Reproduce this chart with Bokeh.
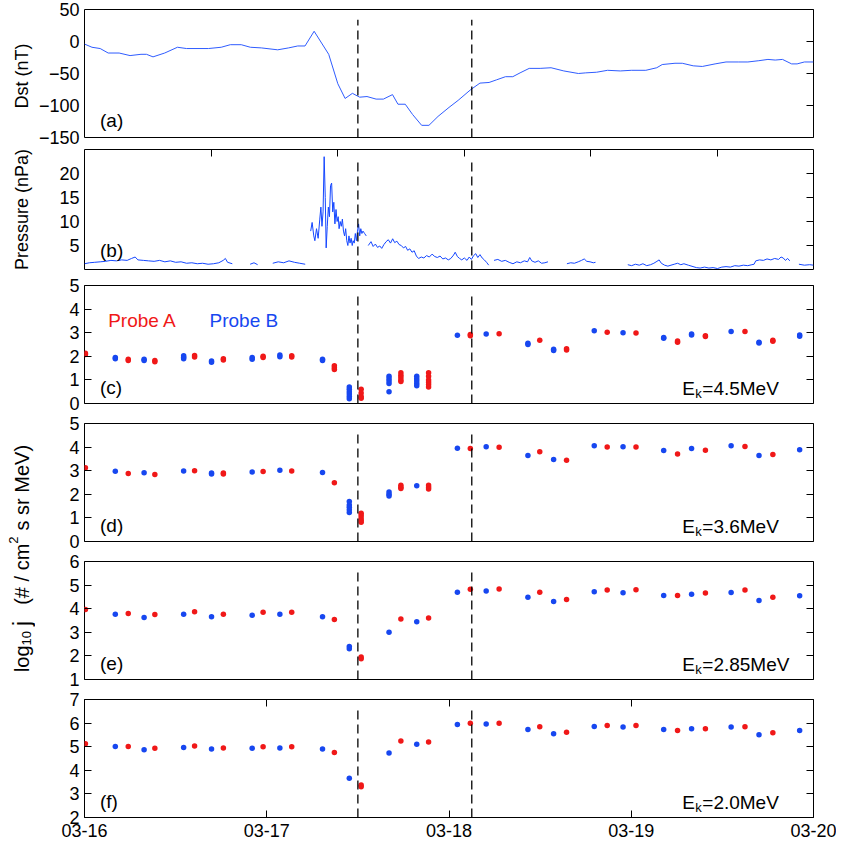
import math
import numpy as np
from bokeh.plotting import figure
from bokeh.layouts import row, column
from bokeh.models import Range1d, LinearAxis, FixedTicker, Label
from bokeh.embed import file_html
from bokeh.resources import INLINE

nan = float("nan")

# ---------------- data ----------------
# time axis: days since 03-16 00:00
day_ticks = [0, 1, 2, 3, 4]
day_labels = ["03-16", "03-17", "03-18", "03-19", "03-20"]
event_days = [1.5, 2.125]

# (a) Dst index (nT)
dst_day = [0, 0.041, 0.086, 0.13, 0.19, 0.25, 0.31, 0.34, 0.376, 0.44, 0.51, 0.56, 0.68, 0.75,
           0.80, 0.86, 0.91, 0.97, 1.06, 1.12, 1.17, 1.21, 1.26, 1.34, 1.39, 1.43, 1.47, 1.51,
           1.55, 1.60, 1.64, 1.69, 1.72, 1.76, 1.80, 1.85, 1.89, 1.94, 2.00, 2.05, 2.12, 2.17,
           2.22, 2.26, 2.31, 2.35, 2.39, 2.44, 2.50, 2.56, 2.63, 2.71, 2.75, 2.81, 2.87, 2.94,
           3.00, 3.08, 3.14, 3.17, 3.24, 3.28, 3.34, 3.39, 3.46, 3.52, 3.59, 3.64, 3.70, 3.75,
           3.79, 3.83, 3.88, 3.91, 3.95, 4.0]
dst_val = [-4, -9, -11, -18, -18, -22, -20, -20, -24, -18, -9, -11, -11, -9,
           -5, -5, -9, -10, -13, -10, -7, -7, 16, -20, -66, -89, -81, -87,
           -86, -90, -90, -83, -98, -98, -114, -131, -131, -117, -103, -92, -75, -65,
           -64, -60, -55, -55, -49, -42, -42, -41, -46, -50, -49, -48, -45, -46,
           -45, -45, -41, -36, -34, -34, -38, -39, -35, -32, -32, -32, -30, -28,
           -29, -28, -35, -35, -32, -32]

# (b) solar wind dynamic pressure (nPa); nan marks data gaps
p_day = [0, 0.027, 0.056, 0.086, 0.115, 0.145, 0.175, 0.204, 0.234, 0.258, 0.278, 0.293, 0.323,
         0.352, 0.382, 0.412, 0.441, 0.471, 0.500, 0.530, 0.560, 0.589, 0.619, 0.648, 0.678,
         0.708, 0.737, 0.761, 0.773, 0.785, 0.811, 0.83, 0.850, 0.86, 0.909, 0.930, 0.950, 0.99,
         1.033, 1.063, 1.093, 1.122, 1.152, 1.181, 1.211, 1.225,
         1.241, 1.249, 1.258, 1.264, 1.273, 1.282, 1.291, 1.297, 1.303, 1.309, 1.315, 1.321,
         1.326, 1.332, 1.338, 1.344, 1.350, 1.356, 1.362, 1.368, 1.374, 1.380, 1.386, 1.392,
         1.397, 1.403, 1.409, 1.415, 1.421, 1.427, 1.433, 1.439, 1.445, 1.451, 1.457, 1.463,
         1.469, 1.474, 1.480, 1.486, 1.492, 1.498, 1.504, 1.510, 1.516, 1.522, 1.528, 1.537,
         1.546, 1.551,
         1.557, 1.572, 1.584, 1.596, 1.608, 1.620, 1.631, 1.643, 1.655, 1.667, 1.679, 1.691,
         1.702, 1.714, 1.726, 1.738, 1.750, 1.762, 1.773, 1.785, 1.797, 1.809, 1.821, 1.833,
         1.848, 1.862, 1.877, 1.892, 1.907, 1.922, 1.936, 1.951, 1.966, 1.981, 1.996, 2.010,
         2.025, 2.034, 2.046, 2.058, 2.070, 2.084, 2.099, 2.111, 2.123, 2.135, 2.147, 2.158,
         2.170, 2.182, 2.194, 2.206, 2.218, 2.232,
         2.247, 2.268, 2.289, 2.309, 2.330, 2.351, 2.372, 2.392, 2.413, 2.431, 2.443, 2.454,
         2.472, 2.490, 2.508, 2.526, 2.543, 2.6,
         2.647, 2.668, 2.688, 2.709, 2.727, 2.742, 2.756, 2.774, 2.792, 2.804, 2.9,
         2.981, 3.002, 3.023, 3.044, 3.064, 3.085, 3.106, 3.124, 3.141, 3.153, 3.165, 3.183,
         3.201, 3.218, 3.236, 3.254, 3.272, 3.289, 3.313,
         3.357, 3.378, 3.402, 3.426, 3.449, 3.473, 3.497, 3.520, 3.544, 3.568, 3.591, 3.615,
         3.639, 3.662, 3.674, 3.683, 3.704, 3.725, 3.745, 3.766, 3.787, 3.808, 3.822, 3.834,
         3.846, 3.858, 3.870, 3.9,
         3.920, 3.950, 3.979, 4.0]
p_val = [1.2, 1.4, 1.5, 1.6, 1.7, 1.9, 1.8, 2.0, 1.9, 2.3, 2.6, 2.0, 1.9,
         1.8, 1.7, 1.9, 1.6, 1.8, 1.5, 1.6, 1.3, 1.4, 1.2, 1.3, 1.1,
         1.2, 1.4, 1.9, 2.3, 1.5, 1.2, nan, 1.0, nan, 1.1, 1.4, 1.0, nan,
         1.3, 1.6, 1.4, 1.8, 1.5, 1.3, 1.1, nan,
         8.0, 9.8, 7.0, 6.0, 8.5, 6.5, 10.5, 13.0, 9.0, 12.0, 23.5, 15.0,
         4.5, 9.0, 13.0, 11.0, 17.5, 18.0, 12.0, 14.0, 9.5, 12.5, 10.0, 11.0,
         8.5, 10.0, 9.0, 10.5, 8.0, 7.0, 8.5, 6.0, 5.0, 7.0, 5.5, 6.5,
         5.0, 6.0, 5.5, 7.5, 6.0, 8.0, 9.5, 7.0, 8.5, 7.5, 8.0, 7.5,
         7.0, nan,
         5.0, 5.8, 4.8, 5.3, 4.6, 4.9, 4.4, 5.2, 5.8, 6.2, 5.5, 6.4,
         5.6, 5.9, 5.2, 5.0, 4.5, 4.8, 4.0, 4.3, 3.6, 3.9, 2.8, 2.3,
         2.6, 2.4, 2.9, 2.6, 3.2, 2.7, 2.5, 2.8, 2.2, 2.4, 2.0, 2.3,
         3.0, 3.6, 2.7, 2.3, 2.0, 2.4, 1.9, 2.6, 2.1, 2.9, 3.3, 2.5,
         3.1, 2.4, 2.0, 1.5, 0.9, nan,
         1.9, 2.1, 1.7, 1.9, 1.5, 1.2, 1.6, 1.4, 1.8, 1.6, 2.5, 1.8,
         1.5, 1.8, 1.3, 1.4, 1.6, nan,
         1.2, 1.4, 1.3, 1.6, 1.9, 2.2, 1.7, 1.6, 1.4, 1.5, nan,
         1.0, 0.8, 1.1, 0.9, 1.2, 0.8, 1.0, 1.3, 1.7, 2.0, 1.3, 0.9,
         0.7, 0.9, 1.1, 1.3, 1.0, 1.2, 0.9,
         0.4, 0.3, 0.5, 0.3, 0.4, 0.2, 0.5, 0.6, 0.5, 0.8, 0.7, 0.9,
         0.8, 1.0, 1.1, 1.8, 2.0, 1.9, 2.2, 2.0, 2.3, 2.1, 2.6, 2.4,
         1.9, 2.3, 1.8, nan,
         1.1, 0.9, 1.0, 0.9]
minute_ticks = [1000, 2000, 3000, 4000, 5000]

# (c)-(f) electron flux, log10 j; pass times (days) and values per pass
a_days = [0.005, 0.24, 0.386, 0.604, 0.762, 0.98, 1.137, 1.371, 1.518, 1.736, 1.888,
          2.117, 2.275, 2.498, 2.645, 2.868, 3.026, 3.254, 3.407, 3.624, 3.777]
b_days = [0.169, 0.327, 0.544, 0.697, 0.92, 1.072, 1.306, 1.453, 1.671, 1.823, 2.046,
          2.204, 2.433, 2.574, 2.797, 2.955, 3.178, 3.331, 3.548, 3.701, 3.924]

a_45 = [[2.13, 2.08], [1.87, 1.82], [1.82, 1.77], [2.03, 1.97], [1.9, 1.84], [2.0, 1.95],
        [2.02, 1.97], [1.6, 1.52, 1.44], [0.6, 0.45, 0.3, 0.22], [1.3, 1.2, 1.1, 1.0, 0.93],
        [1.3, 1.15, 1.0, 0.9, 0.8, 0.7], [2.92, 2.87], [2.96], [2.68], [2.32, 2.27], [3.02],
        [2.99], [2.65, 2.6], [2.87, 2.84], [3.05], [2.68, 2.64]]
b_45 = [[1.95, 1.9], [1.87, 1.82], [2.02, 1.96, 1.9], [1.8, 1.75], [1.95, 1.88], [2.05, 1.98],
        [1.88, 1.82], [0.7, 0.6, 0.5, 0.4, 0.3, 0.2], [1.15, 1.05, 0.95, 0.85, 0.5],
        [1.15, 1.05, 0.95, 0.85, 0.75], [2.89], [2.95], [2.55, 2.5], [2.3, 2.25], [3.08],
        [3.0], [2.8, 2.76], [2.95, 2.9], [3.05], [2.6, 2.56], [2.9, 2.85]]

a_36 = [[3.12], [2.88], [2.84], [3.0], [2.9, 2.86], [2.97], [2.99], [2.49],
        [1.2, 1.1, 1.0, 0.9, 0.82], [2.38, 2.3, 2.25], [2.38, 2.3, 2.22], [3.94], [3.99],
        [3.8], [3.44], [4.0], [4.0], [3.71], [3.87], [4.03], [3.69]]
b_36 = [[2.98], [2.91], [2.99], [2.9, 2.86], [2.95], [3.02], [2.92],
        [1.69, 1.55, 1.45, 1.35, 1.23], [2.1, 2.0, 1.93], [2.36], [3.95], [4.01], [3.64],
        [3.47], [4.06], [4.01], [3.86], [3.94], [4.06], [3.64], [3.89]]

a_285 = [[3.97], [3.8], [3.75], [3.87], [3.77], [3.85], [3.85], [3.54], [1.95, 1.88], [3.56],
         [3.61], [4.82], [4.83], [4.7], [4.39], [4.79], [4.8], [4.56], [4.66], [4.79], [4.48]]
b_285 = [[3.76], [3.63], [3.76], [3.66], [3.72], [3.76], [3.66], [2.4, 2.3], [3.0], [3.45],
         [4.7], [4.75], [4.48], [4.3], [4.72], [4.68], [4.56], [4.61], [4.69], [4.35], [4.55]]

a_20 = [[5.13], [5.01], [4.93], [5.03], [4.94], [5.0], [5.0], [4.75], [3.38, 3.3], [5.24],
        [5.2], [5.99], [5.99], [5.85], [5.61], [5.9], [5.9], [5.69], [5.76], [5.85], [5.59]]
b_20 = [[5.01], [4.87], [4.97], [4.9], [4.93], [4.94], [4.9], [3.66], [4.73], [5.1],
        [5.94], [5.96], [5.73], [5.55], [5.86], [5.83], [5.73], [5.76], [5.83], [5.51], [5.69]]

flux_panels = [
    ("(c)", "4.5MeV", (0, 5), a_45, b_45),
    ("(d)", "3.6MeV", (0, 5), a_36, b_36),
    ("(e)", "2.85MeV", (1, 6), a_285, b_285),
    ("(f)", "2.0MeV", (2, 7), a_20, b_20),
]

# ---------------- style ----------------
FONT = "Liberation Sans"
RED = "#f01818"
BLUE = "#1747f0"
LINE_BLUE = "#2f5cff"
TICK_FS = "18px"

FRAME_LEFT = 45
FRAME_RIGHT = 23
FIG_W = 801
LABEL_W = 35
TOTAL_H = 845

xr = Range1d(0, 4)


def flat(days, vals):
    xs, ys = [], []
    for d, vs in zip(days, vals):
        for v in vs:
            xs.append(d)
            ys.append(v)
    return xs, ys


def make_fig(height, top, bottom, yr):
    p = figure(width=FIG_W, height=height, x_range=xr, y_range=Range1d(*yr),
               output_backend="svg", toolbar_location=None,
               x_axis_location=None, y_axis_location=None,
               min_border_left=FRAME_LEFT, min_border_right=FRAME_RIGHT,
               min_border_top=top, min_border_bottom=bottom)
    p.grid.visible = False
    p.outline_line_color = "black"
    p.outline_line_width = 1
    p.background_fill_color = "white"
    p.border_fill_color = "white"
    return p


def add_axis(p, side, ticks, labels=None, tick_len=7):
    ax = LinearAxis(ticker=FixedTicker(ticks=ticks, minor_ticks=[]))
    ax.axis_line_color = None
    ax.major_tick_in = tick_len
    ax.major_tick_out = 0
    ax.major_tick_line_color = "black" if tick_len > 0 else None
    ax.minor_tick_line_color = None
    ax.major_label_text_font = FONT
    ax.major_label_text_font_size = TICK_FS
    ax.major_label_text_color = "black"
    if labels is None:
        ax.major_label_overrides = {t: "" for t in ticks}
        ax.major_label_standoff = 0
    else:
        ax.major_label_standoff = 6 if side == "below" else 5
        if labels != "auto":
            ax.major_label_overrides = {t: l for t, l in zip(ticks, labels)}
    p.add_layout(ax, side)


def add_events(p, yr):
    lo, hi = yr
    top = lo + 0.92 * (hi - lo)
    p.segment(x0=event_days, y0=[lo] * len(event_days), x1=event_days,
              y1=[top] * len(event_days), line_color="black", line_width=1.3,
              line_dash="9 5")


def add_label(p, x, y, text, size="19px", color="black", align="left",
              baseline="middle", xo=0, yo=0):
    p.add_layout(Label(x=x, y=y, text=text, text_font=FONT, text_font_size=size,
                       text_color=color, text_align=align, text_baseline=baseline,
                       x_offset=xo, y_offset=yo))


# ---------------- panel (a) ----------------
ya = (-150, 50)
fa = make_fig(149, 9, 12, ya)
add_axis(fa, "left", [-150, -100, -50, 0, 50], labels="auto", tick_len=0)
add_axis(fa, "right", [-150, -100, -50, 0, 50])
fa.line(dst_day, dst_val, line_color=LINE_BLUE, line_width=1)
add_events(fa, ya)
add_label(fa, 0.085, -123, "(a)")

# ---------------- panel (b) ----------------
yb = (0, 25)
fb = make_fig(126, 0, 6, yb)
add_axis(fb, "left", [5, 10, 15, 20], labels="auto", tick_len=0)
add_axis(fb, "right", [5, 10, 15, 20])
add_axis(fb, "above", [m / 1440 for m in minute_ticks])
fb.line(np.array(p_day), np.array(p_val, dtype=float), line_color="#1446ff", line_width=1)
add_events(fb, yb)
add_label(fb, 0.085, 4.0, "(b)")

# ---------------- panels (c)-(f) ----------------
flux_figs = []
for i, (tag, ek, yr, a_vals, b_vals) in enumerate(flux_panels):
    last = i == len(flux_panels) - 1
    p = make_fig(156 if last else 138, 10, 28 if last else 10, yr)
    ticks = list(range(yr[0], yr[1] + 1))
    add_axis(p, "left", ticks, labels="auto")
    add_axis(p, "right", ticks)
    if last:
        add_axis(p, "below", day_ticks, labels=day_labels)
        add_axis(p, "above", day_ticks)
    ax_, ay_ = flat(a_days, a_vals)
    bx_, by_ = flat(b_days, b_vals)
    p.scatter(bx_, by_, size=5.5, fill_color=BLUE, line_color=None)
    p.scatter(ax_, ay_, size=5.5, fill_color=RED, line_color=None)
    add_events(p, yr)
    span = yr[1] - yr[0]
    add_label(p, 0.085, yr[0] + 0.135 * span, tag)
    ey = yr[0] + 0.126 * span
    add_label(p, 3.28, ey, "E", baseline="alphabetic")
    add_label(p, 3.28, ey, "k", size="13px", baseline="alphabetic", xo=13, yo=-5)
    add_label(p, 3.28, ey, "=" + ek, baseline="alphabetic", xo=20)
    if i == 0:
        add_label(p, 0.13, yr[0] + 0.7 * span, "Probe A", color=RED, baseline="alphabetic")
        add_label(p, 0.686, yr[0] + 0.7 * span, "Probe B", color=BLUE, baseline="alphabetic")
    flux_figs.append(p)

# ---------------- left label strip ----------------
lab = figure(width=LABEL_W, height=TOTAL_H, x_range=Range1d(0, LABEL_W),
             y_range=Range1d(0, TOTAL_H), output_backend="svg", toolbar_location=None,
             x_axis_location=None, y_axis_location=None, min_border=0)
lab.grid.visible = False
lab.outline_line_color = None
lab.background_fill_color = "white"
lab.border_fill_color = "white"


def page_y(y):
    return TOTAL_H + 8 - y


def vlabel(x, y, text, size, align="left"):
    lab.add_layout(Label(x=x - 8, y=page_y(y), text=text, angle=math.pi / 2,
                         text_font=FONT, text_font_size=size, text_color="black",
                         text_align=align, text_baseline="alphabetic"))


vlabel(29, 81, "Dst  (nT)", "18px", align="center")
vlabel(29, 217, "Pressure (nPa)", "18px", align="center")
# log10 j  (# / cm^2 s sr MeV), pieces stacked bottom to top
vlabel(29, 679.6, "log", "20px")
vlabel(34, 652.9, "10", "13px")
vlabel(29, 633.4, "j", "23px")
vlabel(29, 612.3, "(# / cm", "20px")
vlabel(21, 551.2, "2", "13px")
vlabel(29, 538.0, "s sr MeV)", "20px")

layout = row(lab, column(fa, fb, *flux_figs))

open("out.html", "w").write(file_html(layout, INLINE))
